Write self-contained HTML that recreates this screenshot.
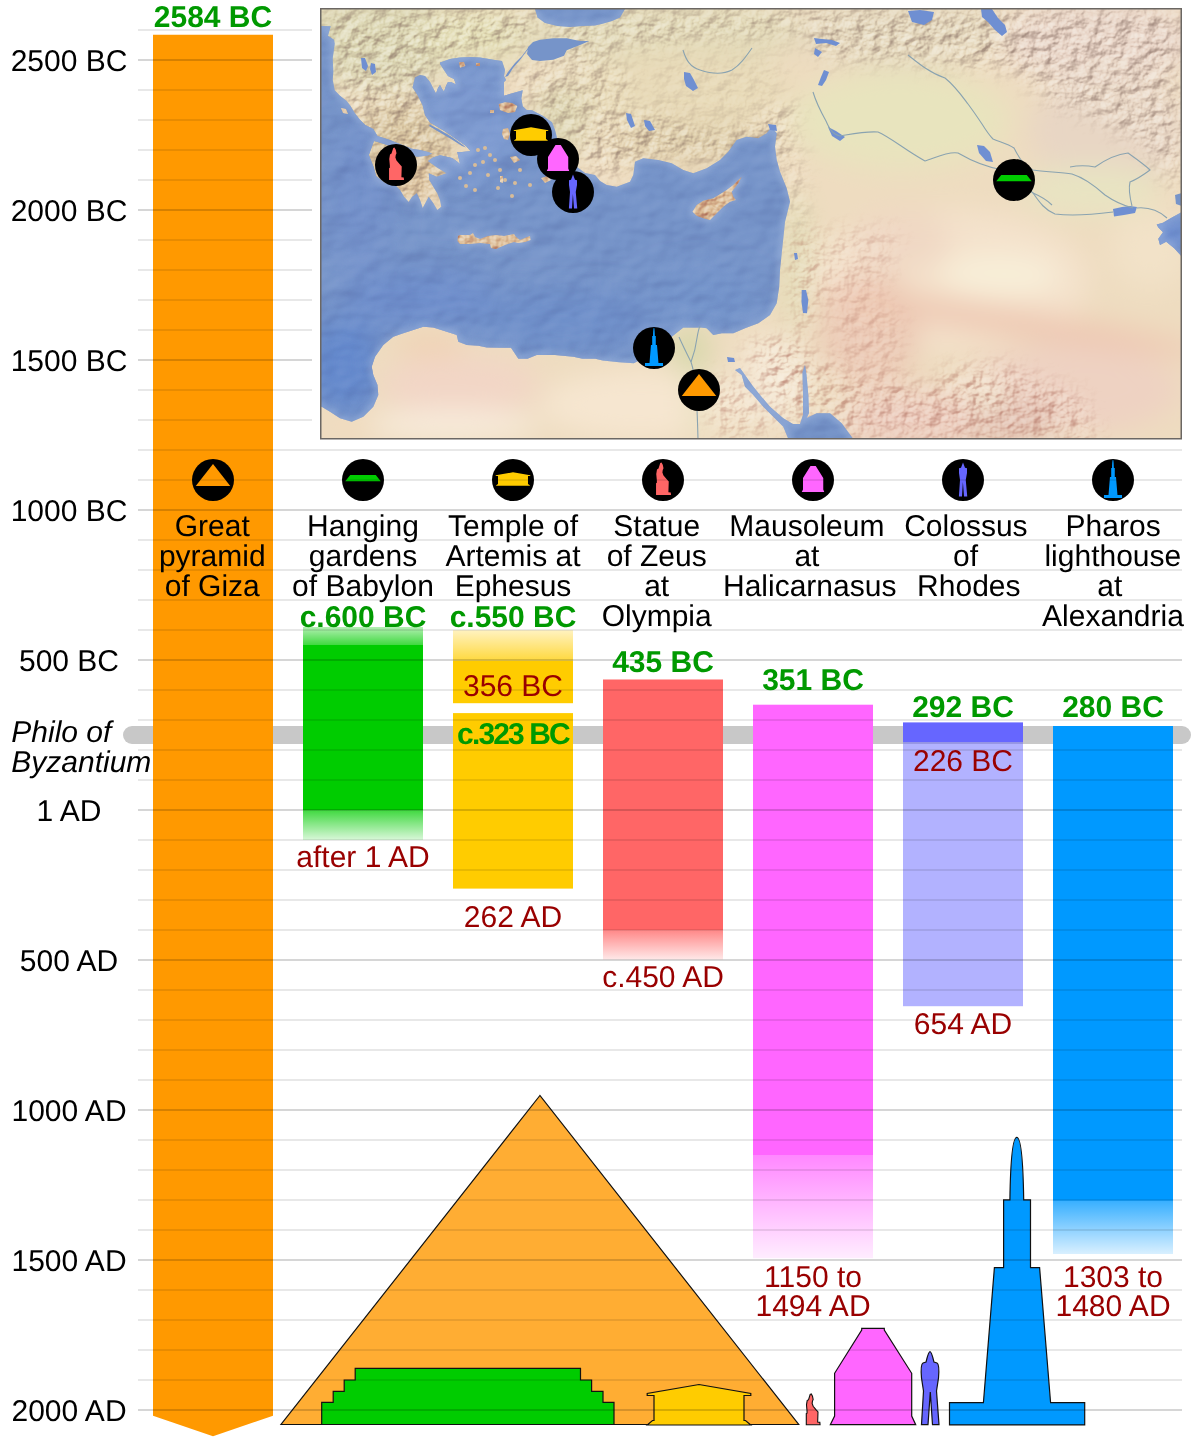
<!DOCTYPE html>
<html><head><meta charset="utf-8"><style>
html,body{margin:0;padding:0;background:#fff;}
svg{display:block;will-change:transform;}
text{font-family:"Liberation Sans",sans-serif;font-size:30px;text-rendering:geometricPrecision;}
</style></head><body>
<svg width="1200" height="1440" viewBox="0 0 1200 1440">
<rect width="1200" height="1440" fill="#fff"/>
<defs>
<clipPath id="mapclip"><rect x="321" y="9" width="860" height="429.5"/></clipPath>
<clipPath id="seaclip"><polygon points="300.0,26.0 321.0,26.0 330.7,26.3 328.0,35.7 334.0,39.7 334.7,43.7 332.7,58.3 333.3,71.7 332.7,79.7 334.7,90.3 340.0,95.7 346.7,101.0 350.7,106.3 354.7,113.0 360.0,119.7 365.3,125.0 373.3,129.0 377.5,136.0 390.0,140.0 400.0,144.0 412.0,148.7 420.0,150.0 428.0,152.0 432.0,153.5 428.0,155.5 420.0,156.5 416.7,156.7 405.0,152.0 390.0,146.0 378.0,142.0 374.0,141.0 368.8,155.0 373.8,167.5 376.0,176.0 385.0,183.0 395.0,185.0 400.0,190.0 404.0,196.7 408.7,202.0 412.0,197.0 416.7,193.3 420.0,200.0 422.7,208.0 425.3,203.3 428.7,196.7 433.3,203.3 437.3,210.0 441.3,206.7 440.0,200.0 437.3,193.3 433.3,186.7 429.3,180.0 428.7,173.3 436.7,176.7 446.7,173.3 436.7,167.3 428.0,161.0 433.0,157.5 440.0,155.3 446.7,156.7 452.0,158.0 456.7,161.3 460.0,164.0 458.7,158.0 457.3,152.0 462.0,152.0 470.7,151.3 466.0,146.0 456.0,139.0 446.0,132.0 436.0,126.0 430.0,122.5 425.0,115.0 422.5,105.0 417.5,95.0 412.5,87.5 415.0,77.5 420.0,75.0 425.0,76.0 430.0,82.0 434.0,90.0 436.0,93.5 438.0,88.0 440.0,85.0 442.0,89.0 444.0,91.5 446.0,86.0 448.0,82.0 451.0,82.0 456.0,84.5 454.0,79.0 448.0,76.0 444.0,70.0 440.0,64.0 440.0,62.5 450.0,59.0 460.0,57.5 470.0,57.0 480.0,57.5 495.0,60.0 502.0,61.0 503.0,64.0 505.0,70.0 504.0,76.0 506.0,80.0 504.0,82.0 504.0,85.0 504.0,95.7 513.3,93.0 522.7,90.3 521.3,98.3 522.7,106.3 526.7,110.0 532.0,110.3 542.7,115.7 552.0,122.3 555.0,130.0 557.0,138.0 562.0,150.0 570.0,160.0 577.0,167.0 585.0,173.0 595.0,175.0 600.0,181.0 606.7,185.0 616.7,186.7 630.0,181.7 633.3,175.0 635.0,161.7 643.3,158.3 658.3,160.0 671.7,163.3 683.3,170.0 693.3,173.3 706.7,168.3 720.0,160.0 728.3,151.7 736.7,140.0 746.7,136.7 758.3,138.3 766.7,133.3 771.7,126.7 776.7,133.3 775.0,146.7 776.7,160.0 780.0,171.7 786.7,188.3 790.0,201.7 785.0,221.7 783.3,238.3 781.7,253.3 780.0,270.0 779.2,286.7 776.7,303.3 770.0,315.0 758.3,323.3 745.0,328.3 733.3,333.3 721.7,333.3 713.3,335.0 706.7,328.3 701.7,327.5 683.3,327.5 674.2,334.8 660.0,346.0 648.0,356.0 633.8,363.3 619.2,362.3 602.7,360.5 595.3,358.7 582.5,358.7 573.3,356.8 555.0,355.0 536.7,355.0 527.5,358.7 518.3,358.7 511.0,347.7 500.0,347.7 486.7,347.5 478.3,345.8 466.7,345.0 458.3,341.7 456.7,335.0 446.7,331.7 433.3,327.5 423.3,326.7 413.3,330.0 403.3,333.3 393.3,336.7 383.3,345.0 375.0,356.7 371.7,366.7 373.3,375.0 377.5,385.0 378.3,395.0 373.3,406.7 363.3,416.7 351.7,421.7 340.0,418.3 330.0,411.7 321.7,406.7 300.0,406.7"/><polygon points="535.0,0.0 535.0,9.0 537.5,17.5 545.0,23.0 557.5,26.0 570.0,27.0 582.5,26.0 595.0,25.5 602.5,23.8 612.0,21.0 620.0,17.5 625.0,9.0 625.0,0.0"/><polygon points="735.0,370.0 741.7,375.0 745.0,386.7 753.3,395.0 763.3,406.7 773.3,416.7 783.3,426.7 788.3,439.0 788.3,460.0 853.3,460.0 853.3,439.0 841.7,423.3 830.0,413.3 816.7,413.3 806.7,418.0 809.0,413.0 808.3,395.0 806.5,375.0 805.0,365.0 802.5,372.0 803.0,395.0 803.0,415.0 800.0,424.0 793.0,424.0 783.3,418.3 770.0,406.7 760.0,395.0 752.0,385.0 745.0,375.0 740.0,368.0"/><polygon points="1156.7,224.4 1163.0,222.8 1171.0,218.0 1182.0,212.0 1200.0,212.0 1200.0,257.0 1182.0,257.0 1174.2,248.2 1166.2,241.8 1160.0,245.0 1158.3,238.7 1163.0,232.3 1158.3,227.6"/></clipPath>
<clipPath id="isleclip"><polygon points="458.0,236.0 460.0,235.0 470.0,235.0 473.0,233.0 475.0,237.0 480.0,239.0 488.0,236.0 496.0,235.0 504.0,236.0 514.0,234.0 516.0,237.0 520.0,240.0 525.0,238.0 530.0,236.0 530.5,240.0 525.0,242.0 518.0,243.0 514.0,242.0 505.0,245.0 496.0,249.0 491.0,248.0 490.0,244.0 480.0,243.0 470.0,244.0 460.0,244.0 457.5,241.0"/><polygon points="692.5,211.7 696.7,205.0 703.3,200.8 713.3,198.3 720.0,194.2 726.7,190.0 733.3,185.0 741.7,176.7 738.3,183.3 731.7,191.7 733.3,196.7 735.8,200.0 730.0,201.7 723.3,206.7 716.7,213.3 710.0,220.0 703.3,218.3 696.7,215.8"/><polygon points="498.7,104.0 505.0,102.3 512.0,103.0 517.3,106.0 515.0,112.0 508.0,113.0 500.0,110.0"/><polygon points="503.0,129.0 508.0,128.0 510.0,134.0 508.0,140.0 504.0,139.0 502.0,134.0"/><polygon points="510.0,157.0 516.0,156.0 520.0,160.0 514.0,163.0"/><polygon points="500.0,176.0 503.0,176.0 503.0,183.0 500.0,182.0"/><polygon points="541.0,178.0 548.0,176.0 551.0,180.0 545.0,183.0"/><polygon points="341.0,108.0 346.0,109.0 348.0,114.0 343.0,113.0"/><polygon points="459.0,62.3 464.0,62.0 465.3,66.0 460.0,67.7"/><polygon points="476.0,63.0 480.0,63.0 480.0,66.0 476.0,66.0"/><polygon points="490.0,110.0 494.0,110.0 494.0,113.0 490.0,113.0"/></clipPath>
<filter id="blurC" x="-5%" y="-5%" width="110%" height="110%"><feGaussianBlur stdDeviation="3"/></filter>
<linearGradient id="landg" x1="0" y1="0" x2="0" y2="1">
 <stop offset="0" stop-color="#ddd3ae"/>
 <stop offset="0.35" stop-color="#e3d9b4"/>
 <stop offset="0.6" stop-color="#f0dcc2"/>
 <stop offset="1" stop-color="#f3dfc8"/>
</linearGradient>
<filter id="blurR" x="-50%" y="-50%" width="200%" height="200%"><feGaussianBlur stdDeviation="14"/></filter>
<filter id="blurM" x="-50%" y="-50%" width="200%" height="200%"><feGaussianBlur stdDeviation="10"/></filter>
<filter id="relief" filterUnits="userSpaceOnUse" x="321" y="9" width="860" height="430" color-interpolation-filters="sRGB">
  <feTurbulence type="fractalNoise" baseFrequency="0.065 0.08" numOctaves="4" seed="11" result="n"/>
  <feDiffuseLighting in="n" surfaceScale="4.5" diffuseConstant="1" lighting-color="#ffffff" result="l">
    <feDistantLight azimuth="225" elevation="45"/>
  </feDiffuseLighting>
  <feColorMatrix in="l" type="matrix" values="0 0 0 0 0.50  0 0 0 0 0.40  0 0 0 0 0.36  -1.5 0 0 0 1.06" result="sh"/>
  <feColorMatrix in="l" type="matrix" values="0 0 0 0 1  0 0 0 0 1  0 0 0 0 0.98  2.4 0 0 0 -1.70" result="hi"/>
  <feMerge><feMergeNode in="sh"/><feMergeNode in="hi"/></feMerge>
</filter>
<filter id="reliefS" filterUnits="userSpaceOnUse" x="321" y="9" width="860" height="430" color-interpolation-filters="sRGB">
  <feTurbulence type="fractalNoise" baseFrequency="0.08 0.1" numOctaves="3" seed="23" result="n"/>
  <feDiffuseLighting in="n" surfaceScale="4" diffuseConstant="1" lighting-color="#ffffff" result="l">
    <feDistantLight azimuth="225" elevation="45"/>
  </feDiffuseLighting>
  <feColorMatrix in="l" type="matrix" values="0 0 0 0 0.62  0 0 0 0 0.33  0 0 0 0 0.27  -1.6 0 0 0 1.13" result="sh"/>
  <feColorMatrix in="l" type="matrix" values="0 0 0 0 1  0 0 0 0 1  0 0 0 0 0.98  2.2 0 0 0 -1.56" result="hi"/>
  <feMerge><feMergeNode in="sh"/><feMergeNode in="hi"/></feMerge>
</filter>
<filter id="seatex" filterUnits="userSpaceOnUse" x="321" y="9" width="860" height="430" color-interpolation-filters="sRGB">
  <feTurbulence type="fractalNoise" baseFrequency="0.02 0.03" numOctaves="3" seed="5" result="n"/>
  <feDiffuseLighting in="n" surfaceScale="5" diffuseConstant="1" lighting-color="#ffffff" result="l">
    <feDistantLight azimuth="225" elevation="45"/>
  </feDiffuseLighting>
  <feColorMatrix in="l" type="matrix" values="0 0 0 0 0.2  0 0 0 0 0.25  0 0 0 0 0.5  -1.5 0 0 0 1.06" result="sh"/>
  <feColorMatrix in="l" type="matrix" values="0 0 0 0 0.75  0 0 0 0 0.82  0 0 0 0 0.95  1.5 0 0 0 -1.06" result="hi"/>
  <feMerge><feMergeNode in="sh"/><feMergeNode in="hi"/></feMerge>
</filter>
<mask id="mtn" maskUnits="userSpaceOnUse" x="321" y="9" width="860" height="430">
 <rect x="321" y="9" width="860" height="430" fill="#000"/>
 <g filter="url(#blurM)">
  <polygon points="321,9 540,9 530,45 470,55 440,62 430,110 455,150 440,200 400,205 370,160 345,110 330,60" fill="#ffffff"/>
  <polygon points="540,9 820,9 800,35 700,40 620,50 560,60" fill="#dddddd"/>
  <polygon points="560,95 640,110 700,130 760,120 800,100 780,160 720,160 660,158 600,180 570,140" fill="#ffffff"/>
  <polygon points="505,65 600,55 640,80 600,120 560,140 530,110" fill="#cccccc"/>
  <polygon points="800,9 1181,9 1181,60 1100,70 1020,70 900,60 820,60" fill="#ffffff"/>
  <polygon points="1000,60 1181,60 1181,200 1150,150 1100,120 1050,100" fill="#eeeeee"/>
  <polygon points="645,62 790,55 770,120 720,140 660,125" fill="#444444"/>
  <polygon points="776,140 800,140 805,230 790,230" fill="#aaaaaa"/>
 </g>
</mask>
<mask id="mtnS" maskUnits="userSpaceOnUse" x="321" y="9" width="860" height="430">
 <rect x="321" y="9" width="860" height="430" fill="#000"/>
 <g filter="url(#blurM)">
  <polygon points="790,230 812,230 815,330 795,330" fill="#bbbbbb"/>
  <polygon points="745,345 800,335 815,370 812,425 790,425 765,390" fill="#dddddd"/>
  <polygon points="715,375 740,380 780,430 720,438 705,400" fill="#aaaaaa"/>
  <polygon points="815,360 880,370 960,400 1000,438 820,438" fill="#bbbbbb"/>
  <polygon points="815,230 900,230 880,300 820,300" fill="#666666"/>
  <polygon points="940,370 1000,365 1080,395 1100,438 930,438" fill="#cccccc"/>
  <polygon points="830,300 900,310 900,390 840,380" fill="#666666"/>
 </g>
</mask>
</defs>
<g clip-path="url(#mapclip)">
<rect x="321" y="9" width="860" height="430" fill="#eedcc0"/>
<g filter="url(#blurR)">
<ellipse cx="380" cy="40" rx="90" ry="50" fill="#dcd6b2"/>
<ellipse cx="480" cy="35" rx="60" ry="30" fill="#e2dcb4"/>
<ellipse cx="660" cy="30" rx="150" ry="35" fill="#e2d9b8"/>
<ellipse cx="900" cy="30" rx="110" ry="35" fill="#e4d7bc"/>
<ellipse cx="1100" cy="40" rx="100" ry="45" fill="#e8d4c6"/>
<ellipse cx="680" cy="90" rx="110" ry="40" fill="#e8dab8"/>
<ellipse cx="690" cy="145" rx="90" ry="22" fill="#e0cfac"/>
<ellipse cx="900" cy="120" rx="110" ry="50" fill="#e8e4be"/>
<ellipse cx="1110" cy="130" rx="80" ry="60" fill="#e8d6c4"/>
<ellipse cx="1090" cy="190" rx="70" ry="25" fill="#e8e4c2"/>
<ellipse cx="400" cy="150" rx="55" ry="50" fill="#dbc9a4"/>
<ellipse cx="410" cy="175" rx="35" ry="30" fill="#dcc29c"/>
<ellipse cx="560" cy="120" rx="30" ry="40" fill="#ddd4b0"/>
<ellipse cx="795" cy="260" rx="18" ry="70" fill="#e4dcb8"/>
<ellipse cx="950" cy="280" rx="140" ry="70" fill="#f4e2cc"/>
<ellipse cx="1000" cy="275" rx="60" ry="22" fill="#f8eed8"/>
<ellipse cx="870" cy="330" rx="50" ry="60" fill="#eccab6"/>
<ellipse cx="1070" cy="390" rx="110" ry="45" fill="#eed2c2"/>
<ellipse cx="920" cy="420" rx="80" ry="30" fill="#eccbbc"/>
<ellipse cx="1010" cy="420" rx="50" ry="25" fill="#e2bfb0"/>
<ellipse cx="985" cy="395" rx="18" ry="14" fill="#f5ecd4"/>
<ellipse cx="1150" cy="250" rx="40" ry="40" fill="#f2e2c8"/>
<ellipse cx="900" cy="240" rx="50" ry="30" fill="#f0d8c4"/>
<ellipse cx="770" cy="380" rx="35" ry="45" fill="#f4e6d2"/>
<ellipse cx="640" cy="405" rx="100" ry="35" fill="#f6e6d0"/>
<ellipse cx="460" cy="385" rx="80" ry="30" fill="#f2d6c6"/>
<ellipse cx="430" cy="345" rx="35" ry="12" fill="#f0d2b4"/>
<ellipse cx="450" cy="425" rx="90" ry="15" fill="#f8ecdc"/>
<ellipse cx="350" cy="425" rx="25" ry="12" fill="#f2dcc0"/>
<ellipse cx="690" cy="350" rx="20" ry="24" fill="#d6d8aa"/>
<ellipse cx="697" cy="400" rx="5" ry="40" fill="#dcdcb0"/>
<ellipse cx="1010" cy="322" rx="200" ry="14" fill="#eec8b2" transform="rotate(9 1010 322)"/>
</g>
<rect x="321" y="9" width="860" height="430" filter="url(#relief)" mask="url(#mtn)" opacity="0.65"/>
<rect x="321" y="9" width="860" height="430" filter="url(#reliefS)" mask="url(#mtnS)" opacity="0.6"/>
<polygon points="300.0,26.0 321.0,26.0 330.7,26.3 328.0,35.7 334.0,39.7 334.7,43.7 332.7,58.3 333.3,71.7 332.7,79.7 334.7,90.3 340.0,95.7 346.7,101.0 350.7,106.3 354.7,113.0 360.0,119.7 365.3,125.0 373.3,129.0 377.5,136.0 390.0,140.0 400.0,144.0 412.0,148.7 420.0,150.0 428.0,152.0 432.0,153.5 428.0,155.5 420.0,156.5 416.7,156.7 405.0,152.0 390.0,146.0 378.0,142.0 374.0,141.0 368.8,155.0 373.8,167.5 376.0,176.0 385.0,183.0 395.0,185.0 400.0,190.0 404.0,196.7 408.7,202.0 412.0,197.0 416.7,193.3 420.0,200.0 422.7,208.0 425.3,203.3 428.7,196.7 433.3,203.3 437.3,210.0 441.3,206.7 440.0,200.0 437.3,193.3 433.3,186.7 429.3,180.0 428.7,173.3 436.7,176.7 446.7,173.3 436.7,167.3 428.0,161.0 433.0,157.5 440.0,155.3 446.7,156.7 452.0,158.0 456.7,161.3 460.0,164.0 458.7,158.0 457.3,152.0 462.0,152.0 470.7,151.3 466.0,146.0 456.0,139.0 446.0,132.0 436.0,126.0 430.0,122.5 425.0,115.0 422.5,105.0 417.5,95.0 412.5,87.5 415.0,77.5 420.0,75.0 425.0,76.0 430.0,82.0 434.0,90.0 436.0,93.5 438.0,88.0 440.0,85.0 442.0,89.0 444.0,91.5 446.0,86.0 448.0,82.0 451.0,82.0 456.0,84.5 454.0,79.0 448.0,76.0 444.0,70.0 440.0,64.0 440.0,62.5 450.0,59.0 460.0,57.5 470.0,57.0 480.0,57.5 495.0,60.0 502.0,61.0 503.0,64.0 505.0,70.0 504.0,76.0 506.0,80.0 504.0,82.0 504.0,85.0 504.0,95.7 513.3,93.0 522.7,90.3 521.3,98.3 522.7,106.3 526.7,110.0 532.0,110.3 542.7,115.7 552.0,122.3 555.0,130.0 557.0,138.0 562.0,150.0 570.0,160.0 577.0,167.0 585.0,173.0 595.0,175.0 600.0,181.0 606.7,185.0 616.7,186.7 630.0,181.7 633.3,175.0 635.0,161.7 643.3,158.3 658.3,160.0 671.7,163.3 683.3,170.0 693.3,173.3 706.7,168.3 720.0,160.0 728.3,151.7 736.7,140.0 746.7,136.7 758.3,138.3 766.7,133.3 771.7,126.7 776.7,133.3 775.0,146.7 776.7,160.0 780.0,171.7 786.7,188.3 790.0,201.7 785.0,221.7 783.3,238.3 781.7,253.3 780.0,270.0 779.2,286.7 776.7,303.3 770.0,315.0 758.3,323.3 745.0,328.3 733.3,333.3 721.7,333.3 713.3,335.0 706.7,328.3 701.7,327.5 683.3,327.5 674.2,334.8 660.0,346.0 648.0,356.0 633.8,363.3 619.2,362.3 602.7,360.5 595.3,358.7 582.5,358.7 573.3,356.8 555.0,355.0 536.7,355.0 527.5,358.7 518.3,358.7 511.0,347.7 500.0,347.7 486.7,347.5 478.3,345.8 466.7,345.0 458.3,341.7 456.7,335.0 446.7,331.7 433.3,327.5 423.3,326.7 413.3,330.0 403.3,333.3 393.3,336.7 383.3,345.0 375.0,356.7 371.7,366.7 373.3,375.0 377.5,385.0 378.3,395.0 373.3,406.7 363.3,416.7 351.7,421.7 340.0,418.3 330.0,411.7 321.7,406.7 300.0,406.7" fill="#7694c9"/>
<polygon points="535.0,0.0 535.0,9.0 537.5,17.5 545.0,23.0 557.5,26.0 570.0,27.0 582.5,26.0 595.0,25.5 602.5,23.8 612.0,21.0 620.0,17.5 625.0,9.0 625.0,0.0" fill="#7694c9"/>
<polygon points="528.0,47.0 533.0,42.0 540.0,39.7 553.3,38.3 566.7,38.3 580.0,41.0 589.3,41.0 580.0,45.0 566.7,50.3 564.0,55.7 553.3,59.7 540.0,61.0 532.0,60.0 527.0,54.0" fill="#7694c9"/>
<polygon points="505.0,77.0 508.0,72.0 515.0,63.0 522.0,56.0 528.0,48.0 531.0,46.0 526.0,52.0 520.0,60.0 513.0,68.0 508.0,76.0" fill="#7694c9"/>
<polygon points="735.0,370.0 741.7,375.0 745.0,386.7 753.3,395.0 763.3,406.7 773.3,416.7 783.3,426.7 788.3,439.0 788.3,460.0 853.3,460.0 853.3,439.0 841.7,423.3 830.0,413.3 816.7,413.3 806.7,418.0 809.0,413.0 808.3,395.0 806.5,375.0 805.0,365.0 802.5,372.0 803.0,395.0 803.0,415.0 800.0,424.0 793.0,424.0 783.3,418.3 770.0,406.7 760.0,395.0 752.0,385.0 745.0,375.0 740.0,368.0" fill="#7694c9"/>
<polygon points="1156.7,224.4 1163.0,222.8 1171.0,218.0 1182.0,212.0 1200.0,212.0 1200.0,257.0 1182.0,257.0 1174.2,248.2 1166.2,241.8 1160.0,245.0 1158.3,238.7 1163.0,232.3 1158.3,227.6" fill="#7694c9"/>
<polygon points="1175.0,195.0 1182.0,193.0 1200.0,193.0 1200.0,206.0 1182.0,206.0 1176.0,204.0" fill="#7694c9"/>
<polygon points="430.0,124.5 440.0,130.0 452.0,137.0 463.0,145.0 466.0,147.5 462.0,146.0 451.0,139.0 439.0,132.0 429.0,126.0" fill="#7694c9"/>
<g clip-path="url(#seaclip)"><g filter="url(#blurR)">
<ellipse cx="345" cy="365" rx="35" ry="45" fill="#6488cc"/>
<ellipse cx="420" cy="300" rx="80" ry="30" fill="#6f8fcc"/>
<ellipse cx="560" cy="320" rx="90" ry="30" fill="#7090ca"/>
<ellipse cx="700" cy="300" rx="60" ry="30" fill="#7594cb"/>
<ellipse cx="470" cy="120" rx="50" ry="60" fill="#7d9ad0"/>
<ellipse cx="360" cy="200" rx="30" ry="80" fill="#7592cb"/>
<ellipse cx="1170" cy="235" rx="20" ry="25" fill="#6c8cd0"/>
</g></g>
<rect x="321" y="9" width="860" height="430" filter="url(#seatex)" clip-path="url(#seaclip)" opacity="0.35"/>
<g clip-path="url(#seaclip)"><g filter="url(#blurC)" opacity="0.55">
<polygon points="300.0,26.0 321.0,26.0 330.7,26.3 328.0,35.7 334.0,39.7 334.7,43.7 332.7,58.3 333.3,71.7 332.7,79.7 334.7,90.3 340.0,95.7 346.7,101.0 350.7,106.3 354.7,113.0 360.0,119.7 365.3,125.0 373.3,129.0 377.5,136.0 390.0,140.0 400.0,144.0 412.0,148.7 420.0,150.0 428.0,152.0 432.0,153.5 428.0,155.5 420.0,156.5 416.7,156.7 405.0,152.0 390.0,146.0 378.0,142.0 374.0,141.0 368.8,155.0 373.8,167.5 376.0,176.0 385.0,183.0 395.0,185.0 400.0,190.0 404.0,196.7 408.7,202.0 412.0,197.0 416.7,193.3 420.0,200.0 422.7,208.0 425.3,203.3 428.7,196.7 433.3,203.3 437.3,210.0 441.3,206.7 440.0,200.0 437.3,193.3 433.3,186.7 429.3,180.0 428.7,173.3 436.7,176.7 446.7,173.3 436.7,167.3 428.0,161.0 433.0,157.5 440.0,155.3 446.7,156.7 452.0,158.0 456.7,161.3 460.0,164.0 458.7,158.0 457.3,152.0 462.0,152.0 470.7,151.3 466.0,146.0 456.0,139.0 446.0,132.0 436.0,126.0 430.0,122.5 425.0,115.0 422.5,105.0 417.5,95.0 412.5,87.5 415.0,77.5 420.0,75.0 425.0,76.0 430.0,82.0 434.0,90.0 436.0,93.5 438.0,88.0 440.0,85.0 442.0,89.0 444.0,91.5 446.0,86.0 448.0,82.0 451.0,82.0 456.0,84.5 454.0,79.0 448.0,76.0 444.0,70.0 440.0,64.0 440.0,62.5 450.0,59.0 460.0,57.5 470.0,57.0 480.0,57.5 495.0,60.0 502.0,61.0 503.0,64.0 505.0,70.0 504.0,76.0 506.0,80.0 504.0,82.0 504.0,85.0 504.0,95.7 513.3,93.0 522.7,90.3 521.3,98.3 522.7,106.3 526.7,110.0 532.0,110.3 542.7,115.7 552.0,122.3 555.0,130.0 557.0,138.0 562.0,150.0 570.0,160.0 577.0,167.0 585.0,173.0 595.0,175.0 600.0,181.0 606.7,185.0 616.7,186.7 630.0,181.7 633.3,175.0 635.0,161.7 643.3,158.3 658.3,160.0 671.7,163.3 683.3,170.0 693.3,173.3 706.7,168.3 720.0,160.0 728.3,151.7 736.7,140.0 746.7,136.7 758.3,138.3 766.7,133.3 771.7,126.7 776.7,133.3 775.0,146.7 776.7,160.0 780.0,171.7 786.7,188.3 790.0,201.7 785.0,221.7 783.3,238.3 781.7,253.3 780.0,270.0 779.2,286.7 776.7,303.3 770.0,315.0 758.3,323.3 745.0,328.3 733.3,333.3 721.7,333.3 713.3,335.0 706.7,328.3 701.7,327.5 683.3,327.5 674.2,334.8 660.0,346.0 648.0,356.0 633.8,363.3 619.2,362.3 602.7,360.5 595.3,358.7 582.5,358.7 573.3,356.8 555.0,355.0 536.7,355.0 527.5,358.7 518.3,358.7 511.0,347.7 500.0,347.7 486.7,347.5 478.3,345.8 466.7,345.0 458.3,341.7 456.7,335.0 446.7,331.7 433.3,327.5 423.3,326.7 413.3,330.0 403.3,333.3 393.3,336.7 383.3,345.0 375.0,356.7 371.7,366.7 373.3,375.0 377.5,385.0 378.3,395.0 373.3,406.7 363.3,416.7 351.7,421.7 340.0,418.3 330.0,411.7 321.7,406.7 300.0,406.7" fill="none" stroke="#a9bfe4" stroke-width="5"/>
<polygon points="535.0,0.0 535.0,9.0 537.5,17.5 545.0,23.0 557.5,26.0 570.0,27.0 582.5,26.0 595.0,25.5 602.5,23.8 612.0,21.0 620.0,17.5 625.0,9.0 625.0,0.0" fill="none" stroke="#a9bfe4" stroke-width="5"/>
<polygon points="735.0,370.0 741.7,375.0 745.0,386.7 753.3,395.0 763.3,406.7 773.3,416.7 783.3,426.7 788.3,439.0 788.3,460.0 853.3,460.0 853.3,439.0 841.7,423.3 830.0,413.3 816.7,413.3 806.7,418.0 809.0,413.0 808.3,395.0 806.5,375.0 805.0,365.0 802.5,372.0 803.0,395.0 803.0,415.0 800.0,424.0 793.0,424.0 783.3,418.3 770.0,406.7 760.0,395.0 752.0,385.0 745.0,375.0 740.0,368.0" fill="none" stroke="#a9bfe4" stroke-width="5"/>
<polygon points="1156.7,224.4 1163.0,222.8 1171.0,218.0 1182.0,212.0 1200.0,212.0 1200.0,257.0 1182.0,257.0 1174.2,248.2 1166.2,241.8 1160.0,245.0 1158.3,238.7 1163.0,232.3 1158.3,227.6" fill="none" stroke="#a9bfe4" stroke-width="5"/>
<polygon points="458.0,236.0 460.0,235.0 470.0,235.0 473.0,233.0 475.0,237.0 480.0,239.0 488.0,236.0 496.0,235.0 504.0,236.0 514.0,234.0 516.0,237.0 520.0,240.0 525.0,238.0 530.0,236.0 530.5,240.0 525.0,242.0 518.0,243.0 514.0,242.0 505.0,245.0 496.0,249.0 491.0,248.0 490.0,244.0 480.0,243.0 470.0,244.0 460.0,244.0 457.5,241.0" fill="none" stroke="#a9bfe4" stroke-width="5"/>
<polygon points="692.5,211.7 696.7,205.0 703.3,200.8 713.3,198.3 720.0,194.2 726.7,190.0 733.3,185.0 741.7,176.7 738.3,183.3 731.7,191.7 733.3,196.7 735.8,200.0 730.0,201.7 723.3,206.7 716.7,213.3 710.0,220.0 703.3,218.3 696.7,215.8" fill="none" stroke="#a9bfe4" stroke-width="5"/>
</g></g>
<polygon points="908.0,11.0 920.0,10.0 934.0,12.0 932.0,20.0 924.0,25.0 912.0,22.0" fill="#6f8fd2"/>
<polygon points="981.0,9.0 992.0,9.0 998.0,18.0 1005.0,25.0 1007.0,32.0 1002.0,36.0 995.0,30.0 988.0,22.0 982.0,17.0" fill="#6f8fd2"/>
<polygon points="1113.0,209.0 1122.0,207.0 1130.0,206.0 1137.0,207.0 1135.0,213.0 1124.0,215.0 1114.0,216.5" fill="#6f8fd2"/>
<polygon points="977.0,145.0 984.0,146.0 990.0,152.0 993.0,162.0 986.0,161.0 979.0,153.0" fill="#6f8fd2"/>
<polygon points="626.0,113.0 631.0,114.0 635.0,126.0 631.0,128.0 627.0,120.0" fill="#6f8fd2"/>
<polygon points="644.0,120.0 650.0,121.0 655.0,130.0 649.0,131.0 645.0,126.0" fill="#6f8fd2"/>
<polygon points="684.0,72.0 690.0,73.0 694.0,80.0 698.0,88.0 693.0,91.0 686.0,86.0 684.0,79.0" fill="#6f8fd2"/>
<polygon points="801.7,290.0 806.0,290.0 808.3,300.0 807.0,313.3 803.0,313.0 801.5,302.0" fill="#6f8fd2"/>
<polygon points="794.0,253.0 797.0,253.0 798.0,259.0 795.0,260.0" fill="#6f8fd2"/>
<polygon points="814.0,38.0 822.0,39.0 832.0,40.0 840.0,43.0 836.0,46.0 826.0,43.0 816.0,44.0" fill="#6f8fd2"/>
<polygon points="815.0,48.0 822.0,52.0 818.0,57.0 814.0,54.0" fill="#6f8fd2"/>
<polygon points="824.0,70.0 829.0,72.0 826.0,80.0 822.0,86.0 818.0,85.0 821.0,77.0" fill="#6f8fd2"/>
<polygon points="828.0,127.0 836.0,131.0 845.0,137.0 840.0,141.0 832.0,136.0" fill="#6f8fd2"/>
<polygon points="768.0,124.0 776.0,125.0 777.0,131.0 770.0,130.0" fill="#6f8fd2"/>
<polygon points="727.0,357.0 734.0,358.0 735.0,362.0 728.0,362.0" fill="#6f8fd2"/>
<polygon points="361.0,58.0 365.0,58.0 368.0,66.0 366.0,71.0 362.0,68.0" fill="#6f8fd2"/>
<polygon points="371.0,63.0 375.0,64.0 376.0,72.0 372.0,75.0 370.0,69.0" fill="#6f8fd2"/>
<polygon points="458.0,236.0 460.0,235.0 470.0,235.0 473.0,233.0 475.0,237.0 480.0,239.0 488.0,236.0 496.0,235.0 504.0,236.0 514.0,234.0 516.0,237.0 520.0,240.0 525.0,238.0 530.0,236.0 530.5,240.0 525.0,242.0 518.0,243.0 514.0,242.0 505.0,245.0 496.0,249.0 491.0,248.0 490.0,244.0 480.0,243.0 470.0,244.0 460.0,244.0 457.5,241.0" fill="#dcbb94"/>
<polygon points="692.5,211.7 696.7,205.0 703.3,200.8 713.3,198.3 720.0,194.2 726.7,190.0 733.3,185.0 741.7,176.7 738.3,183.3 731.7,191.7 733.3,196.7 735.8,200.0 730.0,201.7 723.3,206.7 716.7,213.3 710.0,220.0 703.3,218.3 696.7,215.8" fill="#dcbb94"/>
<polygon points="498.7,104.0 505.0,102.3 512.0,103.0 517.3,106.0 515.0,112.0 508.0,113.0 500.0,110.0" fill="#dcbb94"/>
<polygon points="503.0,129.0 508.0,128.0 510.0,134.0 508.0,140.0 504.0,139.0 502.0,134.0" fill="#dcbb94"/>
<polygon points="510.0,157.0 516.0,156.0 520.0,160.0 514.0,163.0" fill="#dcbb94"/>
<polygon points="500.0,176.0 503.0,176.0 503.0,183.0 500.0,182.0" fill="#dcbb94"/>
<polygon points="541.0,178.0 548.0,176.0 551.0,180.0 545.0,183.0" fill="#dcbb94"/>
<polygon points="341.0,108.0 346.0,109.0 348.0,114.0 343.0,113.0" fill="#dcbb94"/>
<polygon points="459.0,62.3 464.0,62.0 465.3,66.0 460.0,67.7" fill="#dcbb94"/>
<polygon points="476.0,63.0 480.0,63.0 480.0,66.0 476.0,66.0" fill="#dcbb94"/>
<polygon points="490.0,110.0 494.0,110.0 494.0,113.0 490.0,113.0" fill="#dcbb94"/>
<g clip-path="url(#isleclip)"><rect x="321" y="9" width="860" height="430" filter="url(#reliefS)" opacity="0.7"/></g>
<circle cx="478" cy="150" r="2" fill="#d8bc98"/>
<circle cx="485" cy="148" r="2" fill="#d8bc98"/>
<circle cx="490" cy="155" r="2" fill="#d8bc98"/>
<circle cx="495" cy="160" r="2" fill="#d8bc98"/>
<circle cx="483" cy="162" r="2" fill="#d8bc98"/>
<circle cx="475" cy="165" r="2" fill="#d8bc98"/>
<circle cx="500" cy="170" r="2" fill="#d8bc98"/>
<circle cx="488" cy="175" r="2" fill="#d8bc98"/>
<circle cx="470" cy="173" r="2" fill="#d8bc98"/>
<circle cx="505" cy="180" r="2" fill="#d8bc98"/>
<circle cx="515" cy="183" r="2" fill="#d8bc98"/>
<circle cx="498" cy="188" r="2" fill="#d8bc98"/>
<circle cx="530" cy="185" r="2" fill="#d8bc98"/>
<circle cx="460" cy="178" r="2" fill="#d8bc98"/>
<circle cx="475" cy="190" r="2" fill="#d8bc98"/>
<circle cx="512" cy="196" r="2" fill="#d8bc98"/>
<circle cx="466" cy="186" r="2" fill="#d8bc98"/>
<circle cx="520" cy="170" r="2" fill="#d8bc98"/>
<path d="M 683 50 C 686 60 690 67 700 70 C 712 74 724 74 732 70 C 740 65 745 58 752 48" fill="none" stroke="#8aa3b0" stroke-width="1.1"/>
<path d="M 813 92 C 816 102 821 112 826 121 C 829 128 832 134 840 136 C 852 134 866 131 878 132 C 890 137 905 150 925 161 C 935 158 948 151 958 153 C 970 160 985 167 1003 170 C 1015 178 1025 186 1033 193 C 1040 203 1045 210 1055 214 C 1070 216 1090 215 1113 212" fill="none" stroke="#8aa3b0" stroke-width="1.1"/>
<path d="M 1137 208 C 1148 207 1158 210 1167 218" fill="none" stroke="#8aa3b0" stroke-width="1.1"/>
<path d="M 908 55 C 918 63 930 73 945 78 C 955 86 962 96 968 104 C 974 112 978 118 982 124 C 987 132 990 136 993 139 C 1000 142 1008 144 1014 148 C 1018 155 1022 165 1033 170 C 1045 172 1060 172 1072 174 C 1085 178 1095 186 1105 195 C 1115 202 1125 206 1133 208" fill="none" stroke="#8aa3b0" stroke-width="1.1"/>
<path d="M 1070 167 C 1080 165 1090 166 1095 167 C 1105 160 1118 154 1128 153 C 1135 158 1145 165 1150 170 C 1142 176 1135 180 1130 182 C 1128 190 1130 198 1132 206" fill="none" stroke="#8aa3b0" stroke-width="1.1"/>
<path d="M 1033 193 C 1040 196 1047 200 1052 205" fill="none" stroke="#8aa3b0" stroke-width="1.1"/>
<path d="M 698 439 C 697.5 420 697 405 696 392 C 695 380 694 370 691 362 C 687 354 683 346 679 337" fill="none" stroke="#8aa3b0" stroke-width="1.1"/>
<path d="M 691 362 C 694 354 696 346 697 338 C 698 332 699 328 700 326" fill="none" stroke="#8aa3b0" stroke-width="1.1"/>
</g>
<rect x="320.75" y="8.75" width="860.5" height="430" fill="none" stroke="#6b6763" stroke-width="1.5"/>
<line x1="132" y1="735" x2="1182" y2="735" stroke="#c8c8c8" stroke-width="18" stroke-linecap="round"/>
<defs>
<linearGradient id="gtop" x1="0" y1="0" x2="0" y2="1"><stop offset="0" stop-color="#00cc00" stop-opacity="0.3"/><stop offset="1" stop-color="#00cc00" stop-opacity="0.75"/></linearGradient>
<linearGradient id="gbot" x1="0" y1="0" x2="0" y2="1"><stop offset="0" stop-color="#00cc00" stop-opacity="0.75"/><stop offset="1" stop-color="#00cc00" stop-opacity="0.15"/></linearGradient>
<linearGradient id="ytop" x1="0" y1="0" x2="0" y2="1"><stop offset="0" stop-color="#ffcc00" stop-opacity="0.25"/><stop offset="1" stop-color="#ffcc00" stop-opacity="0.75"/></linearGradient>
<linearGradient id="rbot" x1="0" y1="0" x2="0" y2="1"><stop offset="0" stop-color="#ff6666" stop-opacity="0.78"/><stop offset="1" stop-color="#ff6666" stop-opacity="0.15"/></linearGradient>
<linearGradient id="mbot" x1="0" y1="0" x2="0" y2="1"><stop offset="0" stop-color="#ff66ff" stop-opacity="0.78"/><stop offset="1" stop-color="#ff66ff" stop-opacity="0.12"/></linearGradient>
<linearGradient id="bbot" x1="0" y1="0" x2="0" y2="1"><stop offset="0" stop-color="#0099ff" stop-opacity="0.78"/><stop offset="1" stop-color="#0099ff" stop-opacity="0.15"/></linearGradient>
</defs>
<polygon points="153,34.80 273,34.80 273,1415.75 213,1436.25 153,1415.75" fill="#ff9900"/>
<rect x="303" y="627.00" width="120" height="18.00" fill="url(#gtop)"/>
<rect x="303" y="645.00" width="120" height="165.00" fill="#00cc00"/>
<rect x="303" y="810.00" width="120" height="30.00" fill="url(#gbot)"/>
<rect x="453" y="630.25" width="120" height="30.25" fill="url(#ytop)"/>
<rect x="453" y="660.50" width="120" height="42.70" fill="#ffcc00"/>
<rect x="453" y="713.10" width="120" height="175.50" fill="#ffcc00"/>
<rect x="603" y="679.50" width="120" height="250.50" fill="#ff6666"/>
<rect x="603" y="930.00" width="120" height="29.50" fill="url(#rbot)"/>
<rect x="753" y="704.70" width="120" height="450.30" fill="#ff66ff"/>
<rect x="753" y="1155.00" width="120" height="103.20" fill="url(#mbot)"/>
<rect x="903" y="722.40" width="120" height="19.80" fill="#6666ff"/>
<rect x="903" y="742.20" width="120" height="264.00" fill="#6666ff" fill-opacity="0.5"/>
<rect x="1053" y="726.00" width="120" height="474.90" fill="#0099ff"/>
<rect x="1053" y="1200.90" width="120" height="53.10" fill="url(#bbot)"/>
<polygon points="539.9,1095.5 281,1424.5 798.7,1424.5" fill="#ffad33" stroke="#111" stroke-width="1.2" stroke-linejoin="miter"/>
<polygon points="321.7,1424.5 321.7,1402.4 333.2,1402.4 333.2,1391.4 344.2,1391.4 344.2,1380.0 355.2,1380.0 355.2,1368.4 580.5,1368.4 580.5,1380.0 591.6,1380.0 591.6,1391.4 603.0,1391.4 603.0,1402.4 614.0,1402.4 614.0,1424.5" fill="#00cc00" stroke="#111" stroke-width="1.2" stroke-linejoin="miter"/>
<polygon points="647.2,1425.0 652.5,1420.5 654.0,1420.5 654.0,1395.5 647.2,1395.5 647.2,1393.5 699.0,1384.5 750.8,1393.5 750.8,1395.5 744.0,1395.5 744.0,1420.5 745.5,1420.5 750.8,1425.0" fill="#ffcc00" stroke="#111" stroke-width="1.2" stroke-linejoin="miter"/>
<path d="M 656.05 495 L 656.05 483.25 L 656.85 482.75 L 656.85 480.5 L 656.25 474 L 657 469.5 L 658.5 468.5 L 660.25 463 L 661.5 462.5 L 662.75 464.75 L 663.5 468.25 L 662.75 470 L 662.4 472.5 L 663.5 475.5 L 666.5 479 L 668.75 481.5 L 668.4 492.25 L 670.75 492.5 L 671 495 Z" transform="translate(806.3 1424.7) scale(0.92 0.945) translate(-656.05 -495)" fill="#ff6666" stroke="#111" stroke-width="1.2" stroke-linejoin="miter"/>
<polygon points="830.3,1424.7 834.6,1416.0 834.6,1373.3 861.7,1330.0 861.7,1328.3 884.3,1328.3 884.3,1330.0 911.7,1373.3 911.7,1416.0 915.7,1424.7" fill="#ff66ff" stroke="#111" stroke-width="1.2" stroke-linejoin="miter"/>
<path d="M 930 1351.6 C 931.5 1351.6 933 1358 934 1362 L 937 1363 C 939 1364 939 1372 938.5 1378 L 936.5 1391 L 939 1424.7 L 932.5 1424.7 L 930.3 1392 L 928 1424.7 L 921.5 1424.7 L 923.5 1391 L 921.5 1378 C 921 1372 921 1364 923 1363 L 926 1362 C 927 1358 928.5 1351.6 930 1351.6 Z" fill="#6666ff" stroke="#111" stroke-width="1.2" stroke-linejoin="miter"/>
<path d="M 949.5 1424.9 L 949.5 1402.7 L 983.4 1402.7 L 994.4 1267.7 L 1003.6 1267.7 L 1003.6 1199.9 L 1009.9 1199.9 C 1010.5 1160 1013 1137.4 1016.8 1137.4 C 1020.6 1137.4 1023.1 1160 1023.7 1199.9 L 1030.5 1199.9 L 1030.5 1267.7 L 1039.6 1267.7 L 1050.6 1402.7 L 1084.7 1402.7 L 1084.7 1424.9 Z" fill="#0099ff" stroke="#111" stroke-width="1.2" stroke-linejoin="miter"/>
<g transform="translate(213 480)">
<circle cx="0" cy="0" r="21" fill="#000"/>
<polygon points="0,-16 -17.25,6 17.25,6" fill="#ff9900"/>
</g>
<g transform="translate(363 480)">
<circle cx="0" cy="0" r="21" fill="#000"/>
<polygon points="-12.75,-5 12.75,-5 17.75,1.25 -17.75,1.25" fill="#00cc00"/>
</g>
<g transform="translate(513 480)">
<circle cx="0" cy="0" r="21" fill="#000"/>
<polygon points="647.2,1425.0 652.5,1420.5 654.0,1420.5 654.0,1395.5 647.2,1395.5 647.2,1393.5 699.0,1384.5 750.8,1393.5 750.8,1395.5 744.0,1395.5 744.0,1420.5 745.5,1420.5 750.8,1425.0" transform="translate(0 5.75) scale(0.333) translate(-699 -1425)" fill="#ffcc00"/>
</g>
<g transform="translate(663 480)">
<circle cx="0" cy="0" r="21" fill="#000"/>
<path d="M 656.05 495 L 656.05 483.25 L 656.85 482.75 L 656.85 480.5 L 656.25 474 L 657 469.5 L 658.5 468.5 L 660.25 463 L 661.5 462.5 L 662.75 464.75 L 663.5 468.25 L 662.75 470 L 662.4 472.5 L 663.5 475.5 L 666.5 479 L 668.75 481.5 L 668.4 492.25 L 670.75 492.5 L 671 495 Z" transform="translate(-663 -480)" fill="#ff6666"/>
</g>
<g transform="translate(813 480)">
<circle cx="0" cy="0" r="21" fill="#000"/>
<polygon points="-11.25,12 -10,9.5 -10,-2 -2.5,-14 2.75,-14 10.25,-2 10.25,9.5 11.25,12" fill="#ff66ff"/>
</g>
<g transform="translate(963 480)">
<circle cx="0" cy="0" r="21" fill="#000"/>
<path d="M 963 462.5 L 965 467.75 L 967 468.25 L 967 473 L 965.75 480 L 967.25 496.5 L 964 496.5 L 962.9 482 L 962 496.5 L 958.9 496.5 L 960 480 L 959 473 L 959 468.25 L 961 467.75 Z" transform="translate(-963 -480)" fill="#6666ff"/>
</g>
<g transform="translate(1113 480)">
<circle cx="0" cy="0" r="21" fill="#000"/>
<path d="M 949.5 1424.9 L 949.5 1402.7 L 983.4 1402.7 L 994.4 1267.7 L 1003.6 1267.7 L 1003.6 1199.9 L 1009.9 1199.9 C 1010.5 1160 1013 1137.4 1016.8 1137.4 C 1020.6 1137.4 1023.1 1160 1023.7 1199.9 L 1030.5 1199.9 L 1030.5 1267.7 L 1039.6 1267.7 L 1050.6 1402.7 L 1084.7 1402.7 L 1084.7 1424.9 Z" transform="translate(0 18) scale(0.1333) translate(-1017.1 -1424.9)" fill="#0099ff"/>
</g>
<g transform="translate(396 165)">
<circle cx="0" cy="0" r="21" fill="#000"/>
<path d="M 656.05 495 L 656.05 483.25 L 656.85 482.75 L 656.85 480.5 L 656.25 474 L 657 469.5 L 658.5 468.5 L 660.25 463 L 661.5 462.5 L 662.75 464.75 L 663.5 468.25 L 662.75 470 L 662.4 472.5 L 663.5 475.5 L 666.5 479 L 668.75 481.5 L 668.4 492.25 L 670.75 492.5 L 671 495 Z" transform="translate(-663 -480)" fill="#ff6666"/>
</g>
<g transform="translate(531 135)">
<circle cx="0" cy="0" r="21" fill="#000"/>
<polygon points="647.2,1425.0 652.5,1420.5 654.0,1420.5 654.0,1395.5 647.2,1395.5 647.2,1393.5 699.0,1384.5 750.8,1393.5 750.8,1395.5 744.0,1395.5 744.0,1420.5 745.5,1420.5 750.8,1425.0" transform="translate(0 5.75) scale(0.333) translate(-699 -1425)" fill="#ffcc00"/>
</g>
<g transform="translate(558 159)">
<circle cx="0" cy="0" r="21" fill="#000"/>
<polygon points="-11.25,12 -10,9.5 -10,-2 -2.5,-14 2.75,-14 10.25,-2 10.25,9.5 11.25,12" fill="#ff66ff"/>
</g>
<g transform="translate(573 192)">
<circle cx="0" cy="0" r="21" fill="#000"/>
<path d="M 963 462.5 L 965 467.75 L 967 468.25 L 967 473 L 965.75 480 L 967.25 496.5 L 964 496.5 L 962.9 482 L 962 496.5 L 958.9 496.5 L 960 480 L 959 473 L 959 468.25 L 961 467.75 Z" transform="translate(-963 -480)" fill="#6666ff"/>
</g>
<g transform="translate(1014 180)">
<circle cx="0" cy="0" r="21" fill="#000"/>
<polygon points="-12.75,-5 12.75,-5 17.75,1.25 -17.75,1.25" fill="#00cc00"/>
</g>
<g transform="translate(654 348)">
<circle cx="0" cy="0" r="21" fill="#000"/>
<path d="M 949.5 1424.9 L 949.5 1402.7 L 983.4 1402.7 L 994.4 1267.7 L 1003.6 1267.7 L 1003.6 1199.9 L 1009.9 1199.9 C 1010.5 1160 1013 1137.4 1016.8 1137.4 C 1020.6 1137.4 1023.1 1160 1023.7 1199.9 L 1030.5 1199.9 L 1030.5 1267.7 L 1039.6 1267.7 L 1050.6 1402.7 L 1084.7 1402.7 L 1084.7 1424.9 Z" transform="translate(0 18) scale(0.1333) translate(-1017.1 -1424.9)" fill="#0099ff"/>
</g>
<g transform="translate(699 390)">
<circle cx="0" cy="0" r="21" fill="#000"/>
<polygon points="0,-16 -17.25,6 17.25,6" fill="#ff9900"/>
</g>
<rect x="138" y="29" width="174" height="2" fill="#000" fill-opacity="0.09"/>
<rect x="138" y="59" width="174" height="2" fill="#000" fill-opacity="0.16"/>
<rect x="138" y="89" width="174" height="2" fill="#000" fill-opacity="0.09"/>
<rect x="138" y="119" width="174" height="2" fill="#000" fill-opacity="0.09"/>
<rect x="138" y="149" width="174" height="2" fill="#000" fill-opacity="0.09"/>
<rect x="138" y="179" width="174" height="2" fill="#000" fill-opacity="0.09"/>
<rect x="138" y="209" width="174" height="2" fill="#000" fill-opacity="0.16"/>
<rect x="138" y="239" width="174" height="2" fill="#000" fill-opacity="0.09"/>
<rect x="138" y="269" width="174" height="2" fill="#000" fill-opacity="0.09"/>
<rect x="138" y="299" width="174" height="2" fill="#000" fill-opacity="0.09"/>
<rect x="138" y="329" width="174" height="2" fill="#000" fill-opacity="0.09"/>
<rect x="138" y="359" width="174" height="2" fill="#000" fill-opacity="0.16"/>
<rect x="138" y="389" width="174" height="2" fill="#000" fill-opacity="0.09"/>
<rect x="138" y="419" width="174" height="2" fill="#000" fill-opacity="0.09"/>
<rect x="138" y="449" width="1044" height="2" fill="#000" fill-opacity="0.09"/>
<rect x="138" y="479" width="1044" height="2" fill="#000" fill-opacity="0.09"/>
<rect x="138" y="509" width="1044" height="2" fill="#000" fill-opacity="0.16"/>
<rect x="138" y="539" width="1044" height="2" fill="#000" fill-opacity="0.09"/>
<rect x="138" y="569" width="1044" height="2" fill="#000" fill-opacity="0.09"/>
<rect x="138" y="599" width="1044" height="2" fill="#000" fill-opacity="0.09"/>
<rect x="138" y="629" width="1044" height="2" fill="#000" fill-opacity="0.09"/>
<rect x="138" y="659" width="1044" height="2" fill="#000" fill-opacity="0.16"/>
<rect x="138" y="689" width="1044" height="2" fill="#000" fill-opacity="0.09"/>
<rect x="138" y="719" width="1044" height="2" fill="#000" fill-opacity="0.09"/>
<rect x="138" y="749" width="1044" height="2" fill="#000" fill-opacity="0.09"/>
<rect x="138" y="779" width="1044" height="2" fill="#000" fill-opacity="0.09"/>
<rect x="138" y="809" width="1044" height="2" fill="#000" fill-opacity="0.16"/>
<rect x="138" y="839" width="1044" height="2" fill="#000" fill-opacity="0.09"/>
<rect x="138" y="869" width="1044" height="2" fill="#000" fill-opacity="0.09"/>
<rect x="138" y="899" width="1044" height="2" fill="#000" fill-opacity="0.09"/>
<rect x="138" y="929" width="1044" height="2" fill="#000" fill-opacity="0.09"/>
<rect x="138" y="959" width="1044" height="2" fill="#000" fill-opacity="0.16"/>
<rect x="138" y="989" width="1044" height="2" fill="#000" fill-opacity="0.09"/>
<rect x="138" y="1019" width="1044" height="2" fill="#000" fill-opacity="0.09"/>
<rect x="138" y="1049" width="1044" height="2" fill="#000" fill-opacity="0.09"/>
<rect x="138" y="1079" width="1044" height="2" fill="#000" fill-opacity="0.09"/>
<rect x="138" y="1109" width="1044" height="2" fill="#000" fill-opacity="0.16"/>
<rect x="138" y="1139" width="1044" height="2" fill="#000" fill-opacity="0.09"/>
<rect x="138" y="1169" width="1044" height="2" fill="#000" fill-opacity="0.09"/>
<rect x="138" y="1199" width="1044" height="2" fill="#000" fill-opacity="0.09"/>
<rect x="138" y="1229" width="1044" height="2" fill="#000" fill-opacity="0.09"/>
<rect x="138" y="1259" width="1044" height="2" fill="#000" fill-opacity="0.16"/>
<rect x="138" y="1289" width="1044" height="2" fill="#000" fill-opacity="0.09"/>
<rect x="138" y="1319" width="1044" height="2" fill="#000" fill-opacity="0.09"/>
<rect x="138" y="1349" width="1044" height="2" fill="#000" fill-opacity="0.09"/>
<rect x="138" y="1379" width="1044" height="2" fill="#000" fill-opacity="0.09"/>
<rect x="138" y="1409" width="1044" height="2" fill="#000" fill-opacity="0.16"/>
<text x="69" y="70.7" fill="#000" font-weight="normal" font-style="normal" text-anchor="middle" >2500 BC</text>
<text x="69" y="220.7" fill="#000" font-weight="normal" font-style="normal" text-anchor="middle" >2000 BC</text>
<text x="69" y="370.7" fill="#000" font-weight="normal" font-style="normal" text-anchor="middle" >1500 BC</text>
<text x="69" y="520.7" fill="#000" font-weight="normal" font-style="normal" text-anchor="middle" >1000 BC</text>
<text x="69" y="670.7" fill="#000" font-weight="normal" font-style="normal" text-anchor="middle" >500 BC</text>
<text x="69" y="820.7" fill="#000" font-weight="normal" font-style="normal" text-anchor="middle" >1 AD</text>
<text x="69" y="970.7" fill="#000" font-weight="normal" font-style="normal" text-anchor="middle" >500 AD</text>
<text x="69" y="1120.7" fill="#000" font-weight="normal" font-style="normal" text-anchor="middle" >1000 AD</text>
<text x="69" y="1270.7" fill="#000" font-weight="normal" font-style="normal" text-anchor="middle" >1500 AD</text>
<text x="69" y="1420.7" fill="#000" font-weight="normal" font-style="normal" text-anchor="middle" >2000 AD</text>
<text x="11.3" y="742" fill="#000" font-weight="normal" font-style="italic" text-anchor="start" >Philo of</text>
<text x="11.3" y="772" fill="#000" font-weight="normal" font-style="italic" text-anchor="start" >Byzantium</text>
<text x="212.3" y="535.5" fill="#000" font-weight="normal" font-style="normal" text-anchor="middle" >Great</text>
<text x="212.3" y="565.5" fill="#000" font-weight="normal" font-style="normal" text-anchor="middle" >pyramid</text>
<text x="212.3" y="595.5" fill="#000" font-weight="normal" font-style="normal" text-anchor="middle" >of Giza</text>
<text x="363" y="535.5" fill="#000" font-weight="normal" font-style="normal" text-anchor="middle" >Hanging</text>
<text x="363" y="565.5" fill="#000" font-weight="normal" font-style="normal" text-anchor="middle" >gardens</text>
<text x="363" y="595.5" fill="#000" font-weight="normal" font-style="normal" text-anchor="middle" >of Babylon</text>
<text x="513" y="535.5" fill="#000" font-weight="normal" font-style="normal" text-anchor="middle" >Temple of</text>
<text x="513" y="565.5" fill="#000" font-weight="normal" font-style="normal" text-anchor="middle" >Artemis at</text>
<text x="513" y="595.5" fill="#000" font-weight="normal" font-style="normal" text-anchor="middle" >Ephesus</text>
<text x="656.7" y="535.5" fill="#000" font-weight="normal" font-style="normal" text-anchor="middle" >Statue</text>
<text x="656.7" y="565.5" fill="#000" font-weight="normal" font-style="normal" text-anchor="middle" >of Zeus</text>
<text x="656.7" y="595.5" fill="#000" font-weight="normal" font-style="normal" text-anchor="middle" >at</text>
<text x="656.7" y="625.5" fill="#000" font-weight="normal" font-style="normal" text-anchor="middle" >Olympia</text>
<text x="806.9" y="535.5" fill="#000" font-weight="normal" font-style="normal" text-anchor="middle" >Mausoleum</text>
<text x="806.9" y="565.5" fill="#000" font-weight="normal" font-style="normal" text-anchor="middle" >at</text>
<text x="809.7" y="595.5" fill="#000" font-weight="normal" font-style="normal" text-anchor="middle" >Halicarnasus</text>
<text x="965.9" y="535.5" fill="#000" font-weight="normal" font-style="normal" text-anchor="middle" >Colossus</text>
<text x="965.6" y="565.5" fill="#000" font-weight="normal" font-style="normal" text-anchor="middle" >of</text>
<text x="968.8" y="595.5" fill="#000" font-weight="normal" font-style="normal" text-anchor="middle" >Rhodes</text>
<text x="1113.15" y="535.5" fill="#000" font-weight="normal" font-style="normal" text-anchor="middle" >Pharos</text>
<text x="1112.85" y="565.5" fill="#000" font-weight="normal" font-style="normal" text-anchor="middle" >lighthouse</text>
<text x="1109.75" y="595.5" fill="#000" font-weight="normal" font-style="normal" text-anchor="middle" >at</text>
<text x="1113" y="625.5" fill="#000" font-weight="normal" font-style="normal" text-anchor="middle" >Alexandria</text>
<text x="213" y="27" fill="#009900" font-weight="bold" font-style="normal" text-anchor="middle" >2584 BC</text>
<text x="363" y="626.5" fill="#009900" font-weight="bold" font-style="normal" text-anchor="middle" >c.600 BC</text>
<text x="513" y="626.5" fill="#009900" font-weight="bold" font-style="normal" text-anchor="middle" >c.550 BC</text>
<text x="663" y="672" fill="#009900" font-weight="bold" font-style="normal" text-anchor="middle" >435 BC</text>
<text x="813" y="689.5" fill="#009900" font-weight="bold" font-style="normal" text-anchor="middle" >351 BC</text>
<text x="963" y="716.9" fill="#009900" font-weight="bold" font-style="normal" text-anchor="middle" >292 BC</text>
<text x="1113" y="717" fill="#009900" font-weight="bold" font-style="normal" text-anchor="middle" >280 BC</text>
<text x="513" y="743.7" fill="#009900" font-weight="bold" font-style="normal" text-anchor="middle" letter-spacing="-1.87">c.323 BC</text>
<text x="513" y="695.9" fill="#990000" font-weight="normal" font-style="normal" text-anchor="middle" >356 BC</text>
<text x="963" y="770.7" fill="#990000" font-weight="normal" font-style="normal" text-anchor="middle" >226 BC</text>
<text x="363" y="866.5" fill="#990000" font-weight="normal" font-style="normal" text-anchor="middle" >after 1 AD</text>
<text x="513" y="926.5" fill="#990000" font-weight="normal" font-style="normal" text-anchor="middle" >262 AD</text>
<text x="663" y="986.9" fill="#990000" font-weight="normal" font-style="normal" text-anchor="middle" >c.450 AD</text>
<text x="963" y="1033.6" fill="#990000" font-weight="normal" font-style="normal" text-anchor="middle" >654 AD</text>
<text x="813" y="1287" fill="#990000" font-weight="normal" font-style="normal" text-anchor="middle" >1150 to</text>
<text x="813" y="1316.2" fill="#990000" font-weight="normal" font-style="normal" text-anchor="middle" >1494 AD</text>
<text x="1113" y="1287" fill="#990000" font-weight="normal" font-style="normal" text-anchor="middle" >1303 to</text>
<text x="1113" y="1316.2" fill="#990000" font-weight="normal" font-style="normal" text-anchor="middle" >1480 AD</text>
</svg>
</body></html>
